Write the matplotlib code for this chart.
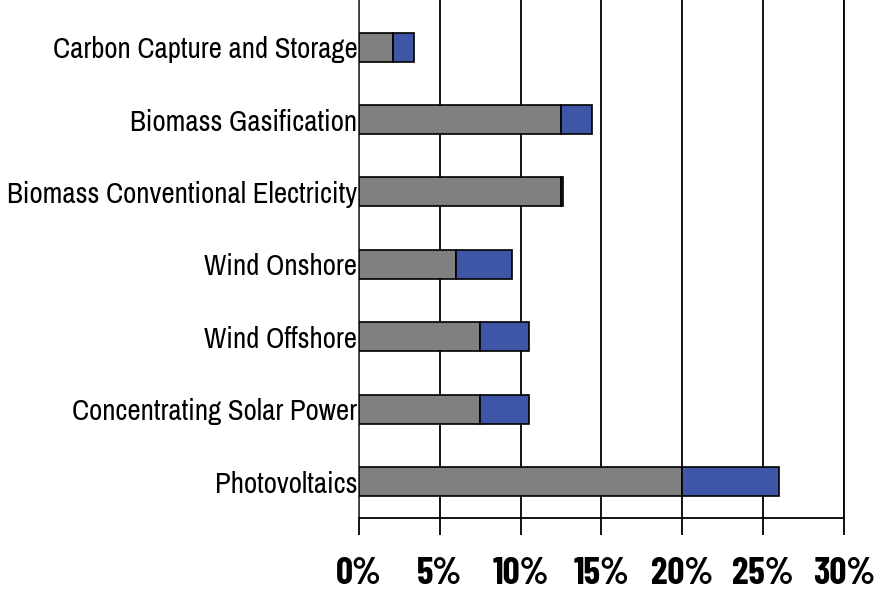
import matplotlib
matplotlib.use("Agg")
import matplotlib.pyplot as plt

# === DATA ===
categories = ["Photovoltaics", "Concentrating Solar Power", "Wind Offshore",
              "Wind Onshore", "Biomass Conventional Electricity",
              "Biomass Gasification", "Carbon Capture and Storage"]
base_share = [20.0, 7.5, 7.5, 6.0, 12.5, 12.5, 2.1]
extra_share = [6.0, 3.0, 3.0, 3.5, 0.15, 1.9, 1.3]
x_ticks = [0, 5, 10, 15, 20, 25, 30]
x_labels = ["0%", "5%", "10%", "15%", "20%", "25%", "30%"]

# narrow fonts, first one installed wins
narrow = ["Liberation Sans Narrow", "Arial Narrow", "Archivo Narrow",
          "Roboto Condensed", "DejaVu Sans"]
narrow_bold = ["Barlow Condensed", "Roboto Condensed", "Asap Condensed", "DejaVu Sans"]

fig = plt.figure(figsize=(8.86, 5.93), dpi=100)
ax = fig.add_axes([0.405, 0.1265, 0.5475, 0.8735])

y = list(range(len(categories)))
ax.barh(y, base_share, height=0.4, color="#808080", edgecolor="black", linewidth=1.2, zorder=3)
ax.barh(y, extra_share, left=base_share, height=0.4, color="#3F56A7",
        edgecolor="black", linewidth=1.2, zorder=3)

ax.set_xlim(0, 30)
ax.set_ylim(-0.5, 6.65)
ax.set_xticks(x_ticks)
ax.set_xticklabels(x_labels, family=narrow_bold, fontweight="bold", fontsize=27)
ax.set_yticks(y)
ax.set_yticklabels(categories, family=narrow, fontsize=20.8)

ax.xaxis.grid(True, color="black", linewidth=1.3, zorder=0)
ax.tick_params(axis="x", direction="out", length=12, width=1.3, pad=16)
ax.tick_params(axis="y", length=0, pad=1)

ax.spines["top"].set_visible(False)
for s in ["left", "right", "bottom"]:
    ax.spines[s].set_linewidth(1.3)
ax.spines["left"].set_color("#404040")

fig.savefig("out.png", dpi=100)
